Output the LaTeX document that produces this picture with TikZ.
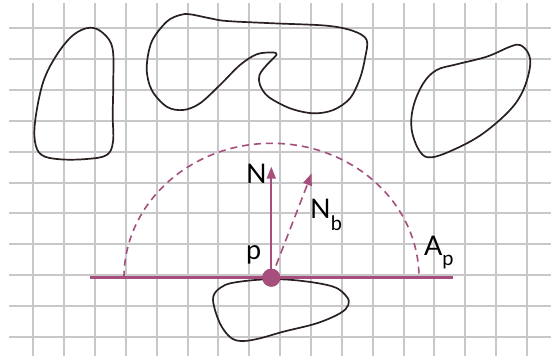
\documentclass[tikz,border=0pt]{standalone}
\usepackage{fontspec}
\setmainfont{Lato}
\usetikzlibrary{arrows.meta}
\definecolor{plum}{RGB}{166,79,125}
\definecolor{gridgray}{RGB}{200,200,202}
\definecolor{ink}{RGB}{42,32,32}
\tikzset{
  gridline/.style={draw=gridgray, line width=2pt},
  blob/.style={draw=ink, line width=1.7pt, line join=round},
  lbl/.style={inner sep=0pt, anchor=base west, text=black, font=\fontsize{27}{27}\selectfont},
  plumarrow/.style={draw=plum, line width=2pt, -{Triangle[length=12pt,width=9pt]}},
  halo/.style={draw=plum, line width=1.6pt, dash pattern=on 7pt off 5pt}
}
\begin{document}
\begin{tikzpicture}[x=1pt,y=-1pt]
\useasboundingbox (0,0) rectangle (551,356);
\fill[white] (0,0) rectangle (551,356);
% grid
\foreach \k in {0,...,10}{
  \draw[gridline] (9,{28.3+30.85*\k}) -- (551,{28.3+30.85*\k});
}
\foreach \k in {0,...,16}{
  \draw[gridline] ({33.3+30.85*\k},3) -- ({33.3+30.85*\k},356);
}
% blobs
\draw[blob] plot[smooth cycle, tension=0.6] coordinates {
  (90,27.7) (103.3,33.3) (112.5,48.3) (113.3,81.7) (112.7,115) (113,141.7)
  (106.7,155) (86.7,159) (60,159.3) (41.7,155) (35,141.7) (35.5,118.3)
  (43.3,81.7) (56.7,55) (73.3,35)};
\draw[blob] plot[smooth cycle, tension=0.55] coordinates {
  (190,14.3) (210,18.3) (226.7,21) (273.3,23.3) (326.7,25.7) (353.3,31)
  (366.7,40) (365,58.3) (360,78.3) (350,98.3) (333.3,110) (313.3,113.3)
  (290,108.3) (268.3,96.7) (260,85) (259.5,75) (266.7,65) (276.7,54.5)
  (271.7,52.5) (256.7,54.3) (240,65) (220,85) (200,103.3) (183.3,110)
  (166.7,106.7) (151.7,90) (146.7,68.3) (151.7,41.7) (166.7,21.7) (180,15)};
\draw[blob] plot[smooth cycle, tension=0.6] coordinates {
  (520,45) (528.3,53.3) (530,66.7) (523.3,90) (510,110) (483.3,133.3)
  (456.7,148.3) (431.7,157.3) (420,151.7) (411.7,130) (413.3,106.7)
  (423.3,83.3) (436.7,70) (456.7,64.3) (486.7,56.7) (510,46.7)};
\draw[blob] plot[smooth cycle, tension=0.6] coordinates {
  (213.3,296.7) (220,288) (233.3,282.7) (266.7,279.3) (300,280.7)
  (333.3,286.7) (346.7,296.7) (348.3,305) (340,313.3) (316.7,323.3)
  (283.3,331.7) (260,338.3) (243.3,341) (231.7,338.3) (221.7,326.7) (215,310)};
% tangent plane and hemisphere
\coordinate (L) at (90,277.7);
\coordinate (R) at (453,277.7);
\coordinate (hl) at (124,277.7);
\node[circle, fill=plum, minimum size=18pt, inner sep=0pt] (p) at (271.3,277.7) {};
\draw[halo] (hl) arc[start angle=180, end angle=0, x radius=147.5pt, y radius=134.4pt];
\draw[draw=plum, line width=3.3pt] (L) -- (R);
\node[circle, fill=plum, minimum size=18pt, inner sep=0pt] at (p) {};
\coordinate (Ntip) at (271.3,166.7);
\coordinate (Nbtip) at (311.7,173.3);
\draw[plumarrow] (p.center) -- (Ntip);
\draw[plumarrow, line width=1.6pt, dash pattern=on 8pt off 5pt] (p.center) -- (Nbtip);
% labels
\node[lbl] (lN) at (246,183) {N};
\node[lbl] (lp) at (246,259.5) {p};
\node[lbl] (lNb) at (310,218) {N\raisebox{-12.5pt}{\fontsize{20}{20}\selectfont b}};
\node[lbl] (lAp) at (424,255.5) {A\raisebox{-9.5pt}{\fontsize{20}{20}\selectfont p}};
\end{tikzpicture}
\end{document}
